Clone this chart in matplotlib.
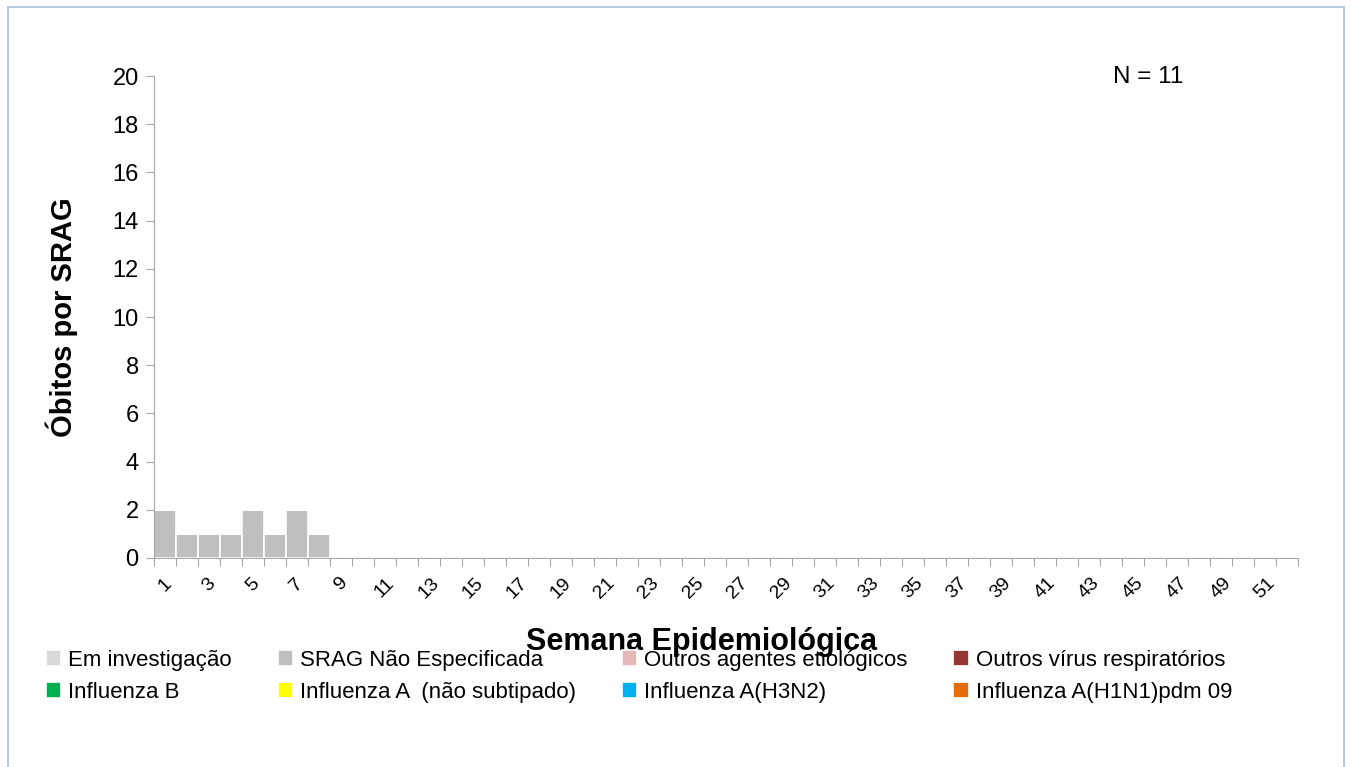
import numpy as np
import matplotlib.pyplot as plt
from matplotlib.patches import Rectangle

plt.rcParams["font.family"] = ["Liberation Sans", "DejaVu Sans"]

# semanas epidemiologicas 1..52
semanas = np.arange(1, 53)

series = [
    "Influenza A(H1N1)pdm 09",
    "Influenza A(H3N2)",
    "Influenza A  (não subtipado)",
    "Influenza B",
    "Outros vírus respiratórios",
    "Outros agentes etiológicos",
    "SRAG Não Especificada",
    "Em investigação",
]
cores = ["#e46c0a", "#00b0f0", "#ffff00", "#00b050",
         "#953735", "#e6b9b8", "#bfbfbf", "#d9d9d9"]

srag_nao_especificada = [2, 1, 1, 1, 2, 1, 2, 1] + [0] * 44
valores = {s: [0] * 52 for s in series}
valores["SRAG Não Especificada"] = srag_nao_especificada

fig = plt.figure(figsize=(13.54, 7.67), dpi=100)
ax = fig.add_axes([0.1137, 0.2725, 0.845, 0.6284])

bottom = np.zeros(52)
handles = {}
for s, c in zip(series, cores):
    v = np.array(valores[s])
    b = ax.bar(semanas, v, width=1.0, bottom=bottom, color=c,
               edgecolor="white", linewidth=1.2, label=s)
    handles[s] = b
    bottom += v

ax.set_xlim(0.5, 52.5)
ax.set_ylim(0, 20)
ax.set_yticks(np.arange(0, 21, 2))
ax.tick_params(axis="y", labelsize=17, length=6, color="#a6a6a6", pad=5)

# ticks nas fronteiras das semanas, rotulos nas semanas impares
ax.set_xticks(np.arange(0.5, 53, 1))
ax.set_xticklabels([])
ax.tick_params(axis="x", which="major", length=6, color="#a6a6a6", direction="out")
ax.set_xticks(semanas[::2], minor=True)
ax.set_xticklabels([str(s) for s in semanas[::2]], minor=True,
                   rotation=45, fontsize=14)
ax.tick_params(axis="x", which="minor", length=0, pad=12)

for sp in ["top", "right"]:
    ax.spines[sp].set_visible(False)
ax.spines["left"].set_color("#a6a6a6")
ax.spines["bottom"].set_color("#a6a6a6")

ax.set_ylabel("Óbitos por SRAG", fontsize=21, fontweight="bold")
ax.yaxis.set_label_coords(-0.066, 0.5)
fig.text(0.5185, 1 - 642 / 767, "Semana Epidemiológica", fontsize=22,
         fontweight="bold", ha="center", va="center")

ax.text(0.8686, 0.998, "N = 11", transform=ax.transAxes, fontsize=17.5,
        ha="center", va="center")

ordem = ["Em investigação", "Influenza B",
         "SRAG Não Especificada", "Influenza A  (não subtipado)",
         "Outros agentes etiológicos", "Influenza A(H3N2)",
         "Outros vírus respiratórios", "Influenza A(H1N1)pdm 09"]
fig.legend([handles[s] for s in ordem], ordem, ncol=4, loc="upper left",
           bbox_to_anchor=(0.019, 1 - 630 / 767), frameon=False, fontsize=16,
           handlelength=0.7, handleheight=0.7, handletextpad=0.3,
           columnspacing=2.07, labelspacing=0.48)

fig.add_artist(Rectangle((8 / 1354, -0.01), 1336 / 1354, 1 - 7 / 767 + 0.01,
                         transform=fig.transFigure, fill=False,
                         edgecolor="#a9bfd9", linewidth=1.2))

fig.savefig("out.png", dpi=100)
